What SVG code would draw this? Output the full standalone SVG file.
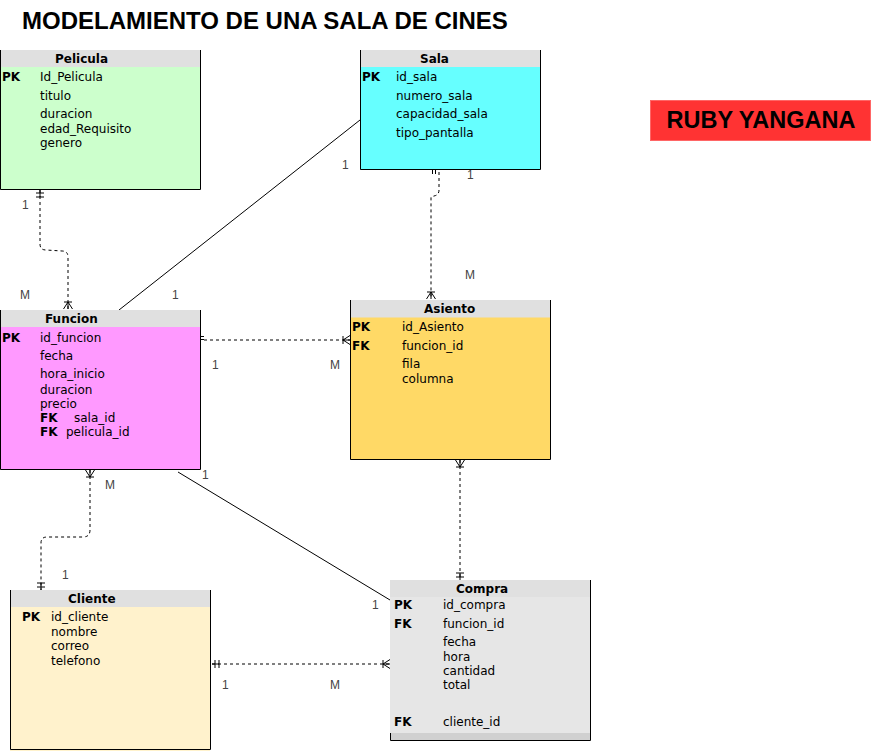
<svg xmlns="http://www.w3.org/2000/svg" width="871" height="751" viewBox="0 0 871 751">
<style>
.hdr{fill:#e0e0e0}
.bd{fill:none;stroke:#000;stroke-width:1}
.t{font-family:"DejaVu Sans",Verdana,sans-serif;font-size:12px;fill:#000}
.b{font-weight:bold}
.lbl{font-family:"Liberation Sans",Arial,sans-serif;font-size:12px;fill:#444}
.ln{fill:none;stroke:#000;stroke-width:1}
.dash{stroke-dasharray:3 3}
</style>
<defs>
<marker id="many" markerUnits="userSpaceOnUse" viewBox="-10 -6 12 12" refX="0" refY="0" markerWidth="12" markerHeight="12" orient="auto-start-reverse">
<path d="M-7,-4 L-7,4 M-7,0 L0,-4.5 M-7,0 L0,4.5 M-7,0 L0,0" fill="none" stroke="#000" stroke-width="1"/>
</marker>
<marker id="one" markerUnits="userSpaceOnUse" viewBox="-10 -6 12 12" refX="0" refY="0" markerWidth="12" markerHeight="12" orient="auto-start-reverse">
<path d="M-3,-4 L-3,4 M-7,-4 L-7,4 M-7,0 L0,0" fill="none" stroke="#000" stroke-width="1"/>
</marker>
</defs>
<rect width="871" height="751" fill="#fff"/>
<text x="22" y="29" font-family="Liberation Sans,Arial,sans-serif" font-size="24" font-weight="bold" fill="#000">MODELAMIENTO DE UNA SALA DE CINES</text>
<g id="author">
<rect x="650.5" y="100.5" width="220" height="40" fill="#ff3333" stroke="#ff6666"/>
<text x="761" y="128" text-anchor="middle" font-family="Liberation Sans,Arial,sans-serif" font-size="23.5" font-weight="bold" fill="#000">RUBY YANGANA</text>
</g>
<g id="connectors">
<path class="ln dash" d="M40,190 L40,244 Q40,250 46,250 L62,251 Q68,251 68,257 L68,309" marker-start="url(#one)" marker-end="url(#many)"/>
<path class="ln" d="M360,120 L119,310"/>
<path class="ln dash" d="M439,172 L439,190 Q439,195 434,196 L431,197 L431,299" marker-end="url(#many)"/>
<path class="ln" d="M432.5,166 V174 M435.5,166 V174"/>
<path class="ln dash" d="M204,340 L350,340" marker-end="url(#many)"/>
<path class="ln" d="M196,336.5 H204 M196,339.5 H204" stroke="#555"/>
<path class="ln" d="M178,472 L390,600"/>
<path class="ln dash" d="M90,470 L90,530 Q90,537 83,537 L47,537 Q41,537 41,543 L41,590" marker-start="url(#many)" marker-end="url(#one)"/>
<path class="ln dash" d="M460,460 L460,580" marker-start="url(#many)" marker-end="url(#one)"/>
<path class="ln dash" d="M212,664 L390,664" marker-start="url(#one)" marker-end="url(#many)"/>
<text class="lbl" x="22" y="209">1</text>
<text class="lbl" x="20" y="299">M</text>
<text class="lbl" x="172" y="299">1</text>
<text class="lbl" x="342" y="169">1</text>
<text class="lbl" x="467" y="179">1</text>
<text class="lbl" x="465" y="279">M</text>
<text class="lbl" x="212" y="369">1</text>
<text class="lbl" x="330" y="369">M</text>
<text class="lbl" x="202" y="479">1</text>
<text class="lbl" x="372" y="609">1</text>
<text class="lbl" x="105" y="489">M</text>
<text class="lbl" x="62" y="579">1</text>
<text class="lbl" x="222" y="689">1</text>
<text class="lbl" x="330" y="689">M</text>
</g>
<g id="pelicula">
<rect x="0" y="50" width="200" height="140" fill="#ccffcc"/>
<rect class="hdr" x="0" y="50" width="200" height="17"/>
<path class="bd" d="M0.5,50 V189.5 H200.5 V50"/>
<text class="t b" x="55" y="63">Pelicula</text>
<text class="t b" x="2" y="81">PK</text>
<text class="t" x="40" y="81">Id_Pelicula</text>
<text class="t" x="40" y="100">titulo</text>
<text class="t" x="40" y="118">duracion</text>
<text class="t" x="40" y="133">edad_Requisito</text>
<text class="t" x="40" y="147">genero</text>
</g>
<g id="sala">
<rect x="360" y="50" width="180" height="120" fill="#66ffff"/>
<rect class="hdr" x="360" y="50" width="180" height="17"/>
<path class="bd" d="M360.5,50 V169.5 H540.5 V50"/>
<text class="t b" x="420" y="63">Sala</text>
<text class="t b" x="362" y="81">PK</text>
<text class="t" x="396" y="81">id_sala</text>
<text class="t" x="396" y="100">numero_sala</text>
<text class="t" x="396" y="118">capacidad_sala</text>
<text class="t" x="396" y="137">tipo_pantalla</text>
</g>
<g id="funcion">
<rect x="0" y="310" width="200" height="160" fill="#ff99ff"/>
<rect class="hdr" x="0" y="310" width="200" height="17"/>
<path class="bd" d="M0.5,310 V469.5 H200.5 V310"/>
<text class="t b" x="45" y="323">Funcion</text>
<text class="t b" x="2" y="342">PK</text>
<text class="t" x="40" y="342">id_funcion</text>
<text class="t" x="40" y="360">fecha</text>
<text class="t" x="40" y="378">hora_inicio</text>
<text class="t" x="40" y="394">duracion</text>
<text class="t" x="40" y="408">precio</text>
<text class="t b" x="40" y="422">FK</text>
<text class="t" x="74" y="422">sala_id</text>
<text class="t b" x="40" y="436">FK</text>
<text class="t" x="66" y="436">pelicula_id</text>
</g>
<g id="asiento">
<rect x="350" y="300" width="200" height="160" fill="#ffd966"/>
<rect class="hdr" x="350" y="300" width="200" height="17.5"/>
<path class="bd" d="M350.5,300 V459.5 H550.5 V300"/>
<text class="t b" x="424" y="313">Asiento</text>
<text class="t b" x="352" y="331">PK</text>
<text class="t" x="402" y="331">id_Asiento</text>
<text class="t b" x="352" y="350">FK</text>
<text class="t" x="402" y="350">funcion_id</text>
<text class="t" x="402" y="368">fila</text>
<text class="t" x="402" y="383">columna</text>
</g>
<g id="cliente">
<rect x="10" y="590" width="200" height="161" fill="#fff2cc"/>
<rect class="hdr" x="10" y="590" width="200" height="17"/>
<path class="bd" d="M10.5,590 V749.5 H210.5 V590"/>
<text class="t b" x="68" y="603">Cliente</text>
<text class="t b" x="22" y="621">PK</text>
<text class="t" x="51" y="621">id_cliente</text>
<text class="t" x="51" y="636">nombre</text>
<text class="t" x="51" y="650">correo</text>
<text class="t" x="51" y="665">telefono</text>
</g>
<g id="compra">
<rect x="390" y="580" width="200" height="160" fill="#e6e6e6"/>
<rect class="hdr" x="390" y="580" width="200" height="17"/>
<rect x="390" y="733" width="200" height="7" fill="#d0d0d0"/>
<path class="bd" d="M390.5,733 V740.5 H590.5 V580"/>
<text class="t b" x="456" y="593">Compra</text>
<text class="t b" x="394" y="609">PK</text>
<text class="t" x="443" y="609">id_compra</text>
<text class="t b" x="394" y="628">FK</text>
<text class="t" x="443" y="628">funcion_id</text>
<text class="t" x="443" y="646">fecha</text>
<text class="t" x="443" y="661">hora</text>
<text class="t" x="443" y="675">cantidad</text>
<text class="t" x="443" y="689">total</text>
<text class="t b" x="394" y="726">FK</text>
<text class="t" x="443" y="726">cliente_id</text>
</g>
</svg>
